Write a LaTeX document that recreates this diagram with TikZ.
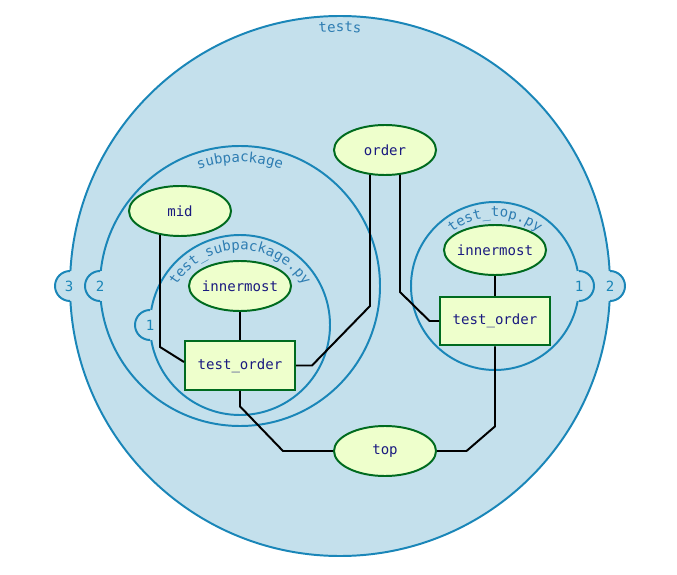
\documentclass[tikz,border=0pt]{standalone}
\usepackage{fontspec}
\setmonofont{DejaVu Sans Mono}
\usetikzlibrary{shapes.geometric,calc,decorations.text}

\definecolor{pkgfill}{HTML}{C4E0EC}
\definecolor{pkgline}{HTML}{1A86B8}
\definecolor{pkgtext}{HTML}{2E7DB2}
\definecolor{fixfill}{HTML}{EEFFCC}
\definecolor{fixline}{HTML}{006B1F}
\definecolor{fixtext}{HTML}{1A1A80}

\tikzset{
pkgcircle/.style={draw=pkgline,fill=pkgfill,line width=1.4pt},
tabline/.style={draw=pkgline,line width=1.4pt},
tabnum/.style={text=pkgline,font=\ttfamily,inner sep=0pt},
arclabel/.style={decorate,decoration={text along path,text align=center,
  text={|\ttfamily\color{pkgtext}|#1}}},
fixture/.style={ellipse,draw=fixline,fill=fixfill,line width=1.4pt,
  minimum width=2.55cm,minimum height=1.25cm,inner xsep=-2.5pt,inner ysep=0pt,
  text=fixtext,font=\ttfamily},
testfunc/.style={rectangle,draw=fixline,fill=fixfill,line width=1.4pt,
  minimum width=2.75cm,minimum height=1.22cm,inner sep=0pt,
  text=fixtext,font=\ttfamily},
link/.style={draw=black,line width=1.4pt}
}

\begin{document}
\begin{tikzpicture}[x=0.025cm,y=0.025cm]

\useasboundingbox
(0,0)
rectangle
(677,574);

% tests
\draw[pkgcircle]
(340,288)
circle[radius=270];

\path[arclabel=tests]
(340,288)
++(180:254)
arc[start angle=180,end angle=0,radius=254];

\fill[pkgfill]
(70,288)
circle[radius=15];
\draw[tabline]
(70,303)
arc[start angle=90,end angle=270,radius=15];
\node[tabnum] (tabthree) at (69,288) {3};

\fill[pkgfill]
(610,288)
circle[radius=15];
\draw[tabline]
(610,273)
arc[start angle=-90,end angle=90,radius=15];
\node[tabnum] (tabtwoR) at (610,288) {2};

% subpackage
\draw[pkgcircle]
(240,288)
circle[radius=140];

\path[arclabel=subpackage]
(240,288)
++(180:124)
arc[start angle=180,end angle=0,radius=124];

\fill[pkgfill]
(100,288)
circle[radius=15];
\draw[tabline]
(100,303)
arc[start angle=90,end angle=270,radius=15];
\node[tabnum] (tabtwoL) at (100,288) {2};

% test_subpackage.py
\draw[pkgcircle]
(240,249)
circle[radius=90];

\path[arclabel=test{\_}subpackage.py]
(240,249)
++(180:75)
arc[start angle=180,end angle=0,radius=75];

\fill[pkgfill]
(150,249)
circle[radius=15];
\draw[tabline]
(150,264)
arc[start angle=90,end angle=270,radius=15];
\node[tabnum] (taboneL) at (150,249) {1};

% test_top.py
\draw[pkgcircle]
(495,288)
circle[radius=84];

\path[arclabel=test{\_}top.py]
(495,288)
++(180:69)
arc[start angle=180,end angle=0,radius=69];

\fill[pkgfill]
(579,288)
circle[radius=15];
\draw[tabline]
(579,273)
arc[start angle=-90,end angle=90,radius=15];
\node[tabnum] (taboneR) at (579,288) {1};

% fixtures and tests
\node[fixture] (order) at (385,424) {order};
\node[fixture] (mid) at (180,363) {mid};
\node[fixture] (innerA) at (240,288) {innermost};
\node[testfunc] (testA) at (240,208.5) {test\_order};
\node[fixture] (innerB) at (495,324) {innermost};
\node[testfunc] (testB) at (495,253) {test\_order};
\node[fixture] (top) at (385,123) {top};

\draw[link]
($(mid.south)+(-20,2)$)
--
++(0,-112)
--
($(testA.west)+(0,3.5)$);

\draw[link]
(innerA.south)
--
(testA.north);

\draw[link]
($(order.south)+(-15,1)$)
--
++(0,-131)
--
($(testA.east)+(16,0)$)
--
(testA.east);

\draw[link]
($(order.south)+(15,1)$)
--
++(0,-117)
--
($(testB.west)+(-9.5,0)$)
--
(testB.west);

\draw[link]
(innerB.south)
--
(testB.north);

\draw[link]
(testA.south)
--
++(0,-15.5)
--
($(top.west)+(-50,0)$)
--
(top.west);

\draw[link]
(testB.south)
--
++(0,-80)
--
($(top.east)+(29.5,0)$)
--
(top.east);

\end{tikzpicture}
\end{document}
